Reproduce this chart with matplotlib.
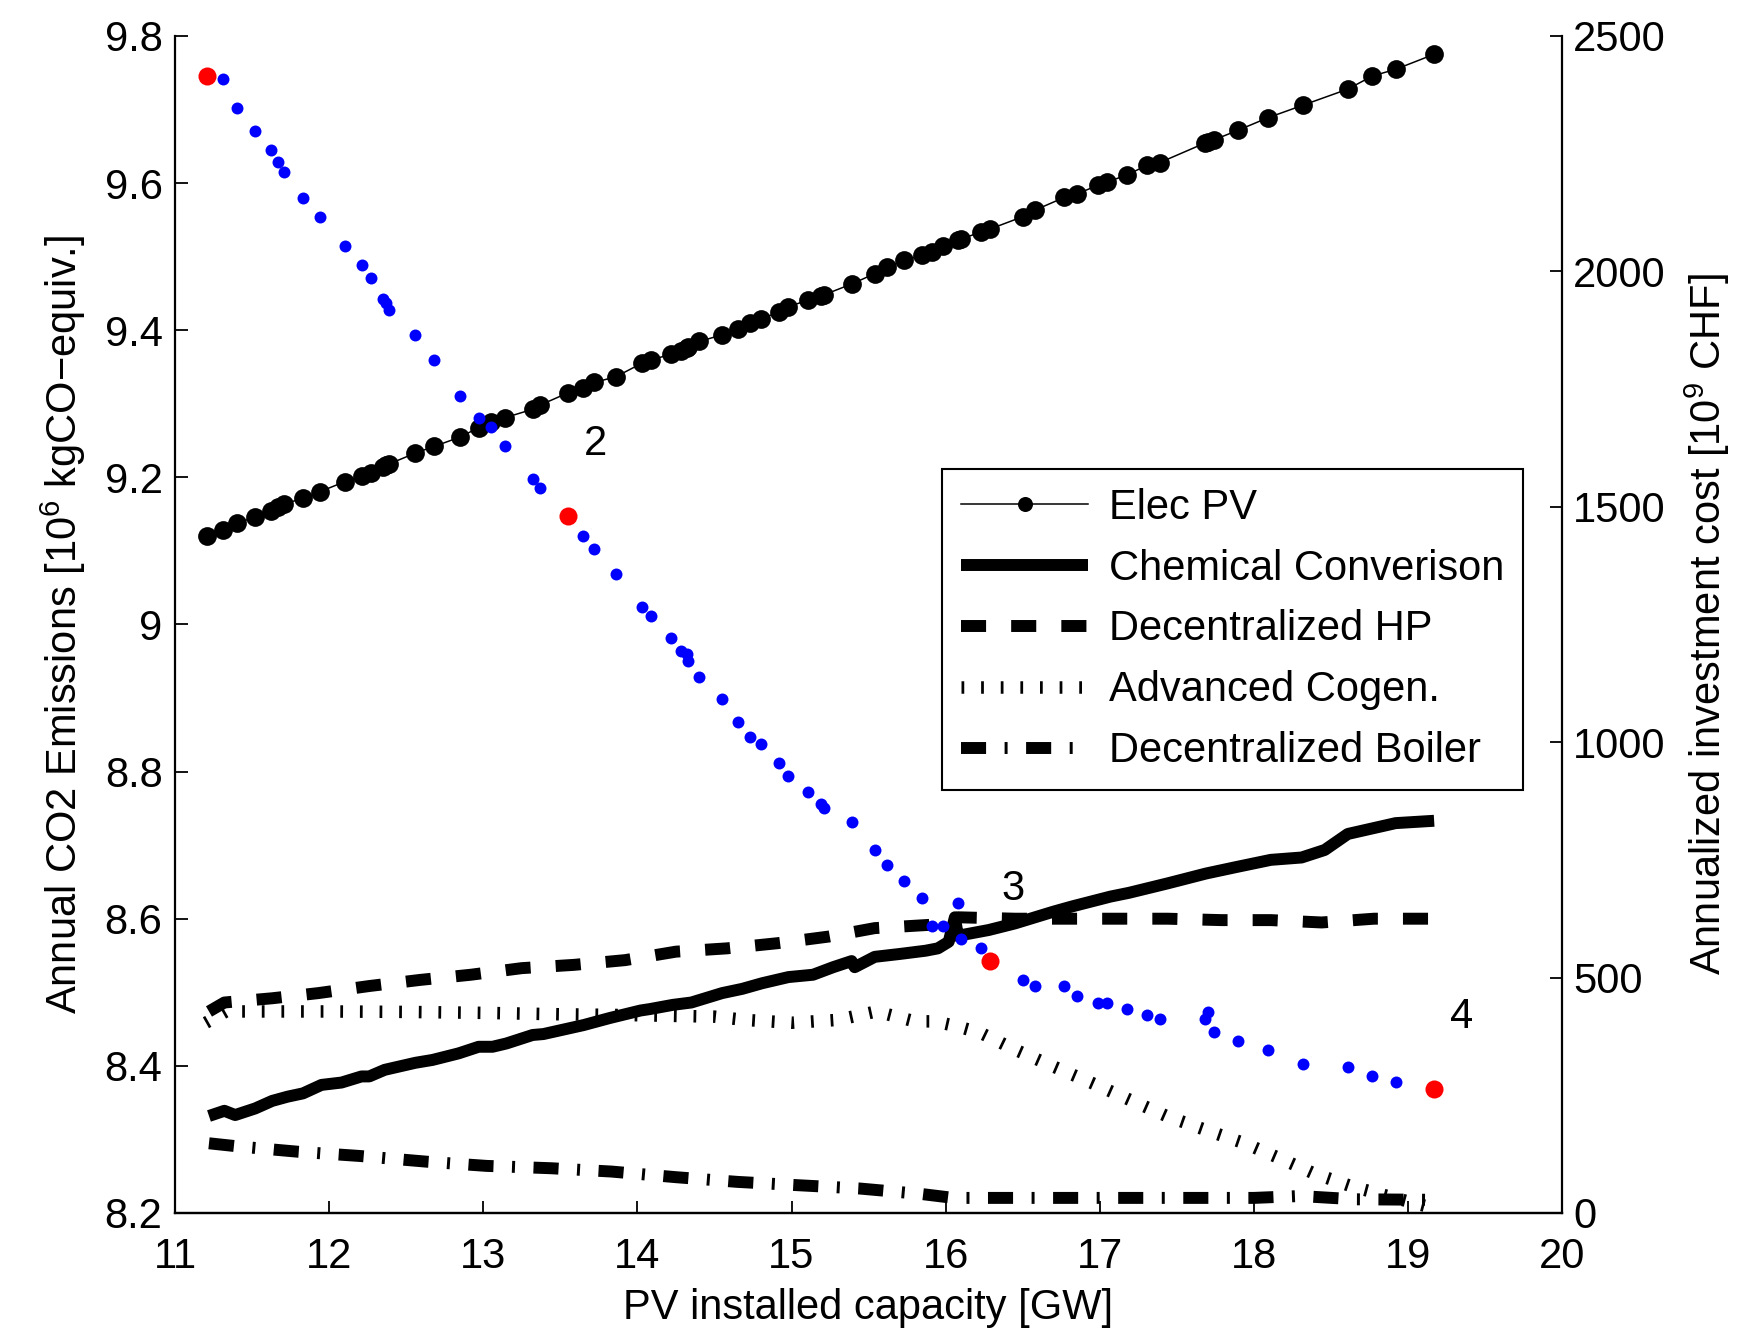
import matplotlib
matplotlib.use('Agg')
import matplotlib.pyplot as plt

plt.rcParams['font.family'] = ['Liberation Sans', 'DejaVu Sans']
plt.rcParams['mathtext.default'] = 'regular'

#########################
### DATA
#########################

# PV installed capacity of each optimised configuration [GW]
pv_capacity = [11.21, 11.31, 11.40, 11.52, 11.62, 11.67, 11.71, 11.83, 11.94, 12.10,
               12.21, 12.27, 12.35, 12.37, 12.39, 12.56, 12.68, 12.85, 12.97, 13.05,
               13.14, 13.32, 13.37, 13.55, 13.65, 13.72, 13.86, 14.03, 14.09, 14.22,
               14.28, 14.32, 14.33, 14.40, 14.55, 14.65, 14.73, 14.80, 14.92, 14.98,
               15.11, 15.19, 15.21, 15.39, 15.54, 15.62, 15.73, 15.85, 15.91, 15.98,
               16.08, 16.10, 16.23, 16.29, 16.50, 16.58, 16.77, 16.85, 16.99, 17.05,
               17.18, 17.31, 17.39, 17.68, 17.70, 17.74, 17.90, 18.09, 18.32, 18.61,
               18.77, 18.92, 19.17]

# annual CO2 emissions [10^6 kgCO-equiv.]
emissions = [9.746, 9.741, 9.702, 9.671, 9.645, 9.628, 9.615, 9.580, 9.554, 9.515,
             9.489, 9.471, 9.442, 9.437, 9.428, 9.394, 9.359, 9.311, 9.280, 9.268,
             9.242, 9.198, 9.186, 9.148, 9.120, 9.102, 9.068, 9.024, 9.011, 8.982,
             8.964, 8.960, 8.950, 8.929, 8.898, 8.868, 8.847, 8.838, 8.811, 8.794,
             8.772, 8.756, 8.750, 8.732, 8.694, 8.673, 8.651, 8.628, 8.590, 8.590,
             8.621, 8.572, 8.560, 8.543, 8.517, 8.508, 8.508, 8.495, 8.486, 8.486,
             8.477, 8.469, 8.464, 8.464, 8.473, 8.446, 8.434, 8.421, 8.403, 8.399,
             8.386, 8.378, 8.369]

# annualized investment cost of Elec PV [10^9 CHF]
elec_pv_cost = [1438, 1451, 1465, 1478, 1492, 1499, 1506, 1518, 1532, 1553,
                1565, 1572, 1585, 1588, 1591, 1614, 1628, 1648, 1668, 1679,
                1689, 1707, 1716, 1742, 1752, 1764, 1776, 1805, 1812, 1824,
                1831, 1837, 1839, 1851, 1865, 1878, 1891, 1898, 1914, 1925,
                1939, 1948, 1950, 1973, 1995, 2009, 2023, 2035, 2042, 2054,
                2067, 2068, 2084, 2090, 2116, 2130, 2157, 2164, 2183, 2190,
                2205, 2226, 2231, 2272, 2274, 2279, 2300, 2326, 2353, 2387,
                2415, 2429, 2461]

# highlighted configurations (red) and their numbers
selected_idx = [0, 23, 53, 72]
point_labels = ['2', '3', '4']
point_label_x = [13.73, 16.44, 19.35]
point_label_y = [9.245, 8.64, 8.467]

# other technologies, investment cost [10^9 CHF]
chem_x = [11.22, 11.32, 11.39, 11.52, 11.63, 11.73, 11.83, 11.95, 12.08, 12.21,
          12.26, 12.36, 12.56, 12.67, 12.84, 12.97, 13.06, 13.15, 13.32, 13.39,
          13.65, 13.82, 14.02, 14.08, 14.23, 14.35, 14.55, 14.68, 14.81, 14.98,
          15.14, 15.27, 15.39, 15.41, 15.54, 15.70, 15.87, 15.95, 16.02, 16.06,
          16.08, 16.10, 16.28, 16.45, 16.70, 16.82, 17.07, 17.19, 17.44, 17.69,
          17.89, 18.11, 18.31, 18.46, 18.61, 18.92, 19.17]
chem_cost = [206, 217, 208, 222, 238, 247, 254, 272, 277, 290,
             290, 304, 319, 325, 339, 353, 353, 360, 378, 380,
             399, 414, 430, 433, 442, 447, 467, 476, 488, 501,
             506, 522, 535, 522, 544, 550, 557, 562, 576, 628,
             588, 590, 601, 615, 640, 651, 672, 680, 700, 721,
             735, 750, 755, 771, 805, 828, 833]

hp_x = [11.22, 11.32, 11.63, 11.93, 12.26, 12.59, 12.92, 13.25, 13.59, 13.92,
        14.25, 14.58, 14.91, 15.24, 15.54, 15.90, 16.02, 16.08, 16.45, 16.80,
        17.12, 17.44, 17.79, 18.11, 18.44, 18.78, 19.17]
hp_cost = [428, 447, 456, 467, 482, 495, 506, 520, 527, 537,
           555, 562, 573, 587, 605, 612, 612, 628, 625, 625,
           625, 625, 622, 622, 617, 625, 625]

cogen_x = [11.20, 11.33, 11.60, 12.00, 12.50, 13.00, 13.50, 14.00, 14.50, 14.70,
           15.00, 15.30, 15.55, 15.80, 15.93, 16.08, 16.23, 16.45, 16.70, 16.95,
           17.19, 17.44, 17.69, 17.94, 18.19, 18.39, 18.64, 18.88, 19.17]
cogen_cost = [404, 428, 428, 428, 427, 425, 422, 420, 417, 410,
              404, 410, 428, 407, 407, 396, 382, 347, 311, 276,
              241, 205, 176, 148, 113, 84, 56, 35, 10]

boiler_x = [11.22, 11.42, 11.80, 12.20, 12.63, 13.02, 13.44, 13.83, 14.25, 14.65,
            15.04, 15.44, 15.85, 16.05, 16.50, 17.00, 17.50, 18.00, 18.30, 18.66,
            19.17]
boiler_cost = [148, 141, 130, 121, 109, 100, 95, 88, 76, 66,
               59, 52, 40, 32, 32, 32, 32, 32, 36, 29,
               28]

em_ticks = [8.2, 8.4, 8.6, 8.8, 9.0, 9.2, 9.4, 9.6, 9.8]
cost_ticks = [0, 500, 1000, 1500, 2000, 2500]
x_ticks = [11, 12, 13, 14, 15, 16, 17, 18, 19, 20]

#########################
### PLOT
#########################

fs = 30
lw_thick = 8.6

fig = plt.figure(figsize=(17.42, 13.40), dpi=100)
ax = fig.add_axes([0.1005, 0.0948, 0.7962, 0.8784])
ax2 = ax.twinx()

# cost axis (right): technologies
ax2.plot(pv_capacity, elec_pv_cost, color='k', lw=1.1, marker='o', ms=13.5,
         mec='k', mew=0, label='Elec PV')
ax2.plot(chem_x, chem_cost, color='k', lw=lw_thick, solid_capstyle='butt',
         solid_joinstyle='round', label='Chemical Converison')
ax2.plot(hp_x, hp_cost, color='k', lw=lw_thick, linestyle=(0, (2.1, 2.1)),
         label='Decentralized HP')
ax2.plot(cogen_x, cogen_cost, color='k', lw=9.0, linestyle=(0, (0.22, 1.35)),
         label='Advanced Cogen.')
ax2.plot(boiler_x, boiler_cost, color='k', lw=lw_thick,
         linestyle=(0, (2.1, 1.55, 0.25, 1.55)), label='Decentralized Boiler')

# emissions axis (left): drawn on top
ax.set_zorder(ax2.get_zorder() + 1)
ax.patch.set_visible(False)
ax.plot(pv_capacity, emissions, linestyle='none', marker='o', ms=8.6,
        color='#0000ff', mew=0)
ax.plot([pv_capacity[i] for i in selected_idx], [emissions[i] for i in selected_idx],
        linestyle='none', marker='o', ms=13, color='#ff0000', mew=0)
for t, tx, ty in zip(point_labels, point_label_x, point_label_y):
    ax.text(tx, ty, t, fontsize=fs, ha='center', va='center')

ax.set_xlim(11, 20)
ax.set_ylim(8.2, 9.8)
ax2.set_ylim(0, 2500)

ax.set_xticks(x_ticks)
ax.set_yticks(em_ticks)
ax.set_yticklabels([f'{v:g}' for v in em_ticks])
ax2.set_yticks(cost_ticks)

ax.tick_params(axis='both', direction='in', length=9, width=1.3, labelsize=fs)
ax.tick_params(axis='y', pad=9)
ax.tick_params(axis='x', pad=17)
ax2.tick_params(axis='y', direction='in', length=9, width=1.3, labelsize=fs, pad=8)

for a in (ax, ax2):
    a.spines['top'].set_visible(False)
    for s in ('left', 'right', 'bottom'):
        a.spines[s].set_linewidth(1.6)
ax.spines['right'].set_visible(False)
ax2.spines['left'].set_visible(False)

ax.set_xlabel('PV installed capacity [GW]', fontsize=fs, labelpad=8)
ax.set_ylabel('Annual CO2 Emissions [10$^6$ kgCO\u2212equiv.]', fontsize=fs, labelpad=12)
ax2.set_ylabel('Annualized investment cost [10$^9$ CHF]', fontsize=fs, labelpad=12)

leg = ax2.legend(loc='upper right', bbox_to_anchor=(0.972, 0.632), fontsize=fs,
                 frameon=True, fancybox=False, edgecolor='k', framealpha=1,
                 handlelength=3.05, handletextpad=0.5, labelspacing=0.5,
                 borderpad=0.45, borderaxespad=0, numpoints=1, markerscale=0.8)
leg.get_frame().set_linewidth(1.5)

fig.savefig('out.png', dpi=100)
